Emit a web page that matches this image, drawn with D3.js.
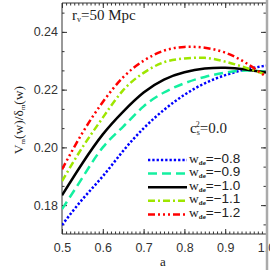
<!DOCTYPE html>
<html>
<head>
<meta charset="utf-8">
<script src="https://cdn.jsdelivr.net/npm/d3@7"></script>
<style>
  html, body { margin: 0; padding: 0; background: #fff; }
  svg { display: block; }
  .axis path { display: none; }
  .axis line { stroke: #333; }
  .axis text { font-family: "Liberation Sans", Arial, sans-serif; font-size: 12.5px; fill: #333; }
</style>
</head>
<body>
<svg id="chart" width="270" height="270"></svg>
<script>
// scale factor a
const aVals = [0.50, 0.55, 0.60, 0.65, 0.70, 0.75, 0.80, 0.85, 0.90, 0.95, 1.00];
// V_m(w)/delta_m(w) for each w_de
const wm08 = [0.1731, 0.1820, 0.1900, 0.1988, 0.2066, 0.2130, 0.2182, 0.2222, 0.2250, 0.2270, 0.2283];
const wm09 = [0.1786, 0.1895, 0.2000, 0.2072, 0.2142, 0.2190, 0.2222, 0.2244, 0.2259, 0.2266, 0.2262];
const wm10 = [0.1834, 0.1945, 0.2045, 0.2124, 0.2190, 0.2235, 0.2260, 0.2273, 0.2276, 0.2270, 0.2259];
const wm11 = [0.1883, 0.2000, 0.2103, 0.2198, 0.2258, 0.2295, 0.2308, 0.2310, 0.2297, 0.2276, 0.2252];
const wm12 = [0.1924, 0.2050, 0.2157, 0.2243, 0.2300, 0.2335, 0.2348, 0.2345, 0.2328, 0.2293, 0.2245];

const wLabels = ['\u22120.8', '\u22120.9', '\u22121.0', '\u22121.1', '\u22121.2'];
const xTicks = [0.5, 0.6, 0.7, 0.8, 0.9, 1.0];
const yTicks = [0.18, 0.20, 0.22, 0.24];

const series = [
  { values: wm08, label: wLabels[0], color: '#0000ff', dash: '2.3,2' },
  { values: wm09, label: wLabels[1], color: '#14f0a0', dash: '9,5' },
  { values: wm10, label: wLabels[2], color: '#000000', dash: null },
  { values: wm11, label: wLabels[3], color: '#9ee600', dash: '7,3,2,3' },
  { values: wm12, label: wLabels[4], color: '#ff0000', dash: '7,3,2,3,2,3,2,3' }
];

const svg = d3.select('#chart');
const m = { left: 62, right: 266, top: 3, bottom: 234 };

const x = d3.scaleLinear().domain([0.5, 1.0]).range([m.left, m.right]);
const y = d3.scaleLinear().domain([0.17, 0.25]).range([m.bottom, m.top]);

// minor ticks
const xMinor = d3.range(50, 101).map(d => d / 100);
const yMinor = d3.range(0, 13).map(i => 0.18 - 0.02 / 3 + i * 0.02 / 3).filter(v => v > 0.17 && v < 0.25);

// clip
svg.append('defs').append('clipPath').attr('id', 'clip')
  .append('rect').attr('x', m.left).attr('y', m.top).attr('width', m.right - m.left).attr('height', m.bottom - m.top);

// bottom axis
svg.append('g').attr('class', 'axis')
  .attr('transform', `translate(0,${m.bottom})`)
  .call(d3.axisBottom(x).tickValues(xMinor).tickSize(-2.5).tickFormat(''));
svg.append('g').attr('class', 'axis')
  .attr('transform', `translate(0,${m.bottom})`)
  .call(d3.axisBottom(x).tickValues(xTicks).tickSize(-5).tickPadding(9).tickFormat(d3.format('.1f')));

// top axis
svg.append('g').attr('class', 'axis')
  .attr('transform', `translate(0,${m.top})`)
  .call(d3.axisTop(x).tickValues(xMinor).tickSize(-2.5).tickFormat(''));
svg.append('g').attr('class', 'axis')
  .attr('transform', `translate(0,${m.top})`)
  .call(d3.axisTop(x).tickValues(xTicks).tickSize(-5).tickFormat(''));

// left axis
svg.append('g').attr('class', 'axis')
  .attr('transform', `translate(${m.left},0)`)
  .call(d3.axisLeft(y).tickValues(yMinor).tickSize(-2.5).tickFormat(''));
svg.append('g').attr('class', 'axis')
  .attr('transform', `translate(${m.left},0)`)
  .call(d3.axisLeft(y).tickValues(yTicks).tickSize(-5).tickPadding(4).tickFormat(d3.format('.2f')));

// right axis
svg.append('g').attr('class', 'axis')
  .attr('transform', `translate(${m.right},0)`)
  .call(d3.axisRight(y).tickValues(yMinor).tickSize(-2.5).tickFormat(''));
svg.append('g').attr('class', 'axis')
  .attr('transform', `translate(${m.right},0)`)
  .call(d3.axisRight(y).tickValues(yTicks).tickSize(-5).tickFormat(''));

// frame
svg.append('path')
  .attr('d', `M${m.left},${m.top}H${m.right}M${m.left},${m.top}V${m.bottom}H${m.right}`)
  .attr('fill', 'none').attr('stroke', '#333').attr('stroke-width', 1);
svg.append('line')
  .attr('x1', m.right + 1).attr('x2', m.right + 1).attr('y1', 0).attr('y2', 270)
  .attr('stroke', '#aaa').attr('stroke-width', 2.5);

// curves
const line = d3.line()
  .x((d, i) => x(aVals[i]))
  .y(d => y(d))
  .curve(d3.curveNatural);

const curves = svg.append('g').attr('clip-path', 'url(#clip)');
series.forEach(s => {
  curves.append('path')
    .datum(s.values)
    .attr('fill', 'none')
    .attr('stroke', s.color)
    .attr('stroke-width', 2.5)
    .attr('stroke-dasharray', s.dash)
    .attr('d', line);
});

// legend
const legend = svg.append('g');
series.forEach((s, i) => {
  const ly = 160 + i * 13.6;
  legend.append('line')
    .attr('x1', 148).attr('x2', 187)
    .attr('y1', ly).attr('y2', ly)
    .attr('stroke', s.color).attr('stroke-width', 2.5)
    .attr('stroke-dasharray', s.dash);
  const t = legend.append('text')
    .attr('x', 189).attr('y', ly + 2.5)
    .attr('fill', '#222');
  t.append('tspan').attr('font-family', 'Liberation Serif, serif').attr('font-size', 13.5).text('w');
  t.append('tspan').attr('font-family', 'Liberation Serif, serif').attr('font-size', 7).attr('font-weight', 'bold').attr('dy', 2).text('de');
  t.append('tspan').attr('font-family', 'Liberation Sans, sans-serif').attr('font-size', 13.5).attr('dy', -2).text('=' + s.label);
});

// annotations
const rv = svg.append('text').attr('x', 72).attr('y', 20)
  .attr('font-family', 'Liberation Serif, serif').attr('font-size', 15).attr('fill', '#222');
rv.append('tspan').text('r');
rv.append('tspan').attr('font-size', 8).attr('dy', 2).text('v');
rv.append('tspan').attr('dy', -2).text('=50 Mpc');

const cs = svg.append('text').attr('x', 190).attr('y', 133)
  .attr('font-family', 'Liberation Serif, serif').attr('font-size', 15).attr('fill', '#222');
cs.append('tspan').text('c');
cs.append('tspan').attr('font-size', 8).attr('dy', 2).text('s');
cs.append('tspan').attr('font-size', 8).attr('dx', -4).attr('dy', -8).text('2');
cs.append('tspan').attr('dy', 6).text('=0.0');

// axis titles
svg.append('text').attr('x', 163).attr('y', 266)
  .attr('text-anchor', 'middle')
  .attr('font-family', 'Liberation Serif, serif').attr('font-size', 13).attr('fill', '#222')
  .text('a');

const yl = svg.append('text')
  .attr('transform', 'translate(23,120) rotate(-90)')
  .attr('text-anchor', 'middle')
  .attr('font-family', 'Liberation Serif, serif').attr('font-size', 13.5).attr('fill', '#222');
yl.append('tspan').text('V');
yl.append('tspan').attr('font-size', 7).attr('dy', 2).text('m');
yl.append('tspan').attr('dy', -2).text('(w)/\u03b4');
yl.append('tspan').attr('font-size', 7).attr('dy', 2).text('m');
yl.append('tspan').attr('dy', -2).text('(w)');
</script>
</body>
</html>
